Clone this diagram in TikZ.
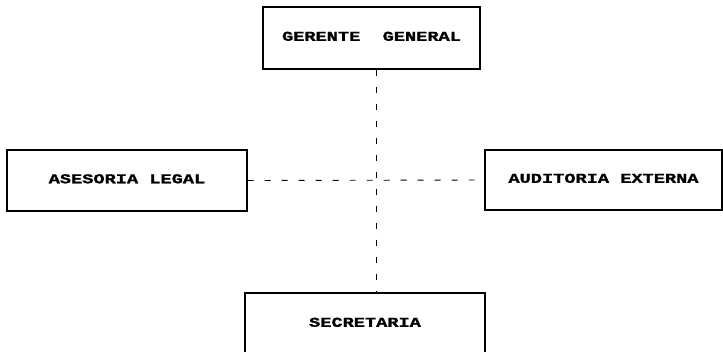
\documentclass[tikz,border=0pt]{standalone}
\usepackage{fontspec}
\newfontfamily\orgfont{Liberation Mono}[UprightFont=* Bold, FakeStretch=1.38, FakeBold=1.5]
\newcommand{\orglabel}[1]{\raisebox{3.5pt}{#1}}
\begin{document}
\begin{tikzpicture}[x=1pt,y=-1pt,
  orgbox/.style={draw, line width=1.4pt, rectangle, inner sep=0pt,
    font=\fontsize{13.5}{15}\orgfont},
  link/.style={line width=0.9pt, dash pattern=on 6pt off 11pt}]
  \useasboundingbox (0,0) rectangle (723,352);
  \node[orgbox, minimum width=217pt, minimum height=62pt] (g) at (371.5,38) {\orglabel{GERENTE\ \ GENERAL}};
  \node[orgbox, minimum width=240pt, minimum height=61pt] (a) at (127,180.5) {\orglabel{ASESORIA LEGAL}};
  \node[orgbox, minimum width=237pt, minimum height=60pt] (e) at (603.5,180) {\orglabel{AUDITORIA EXTERNA}};
  \node[orgbox, minimum width=240pt, minimum height=62pt] (s) at (365,324) {\orglabel{SECRETARIA}};
  \coordinate (c) at (376,180);
  \draw[link] (c |- g.south) -- (c |- s.north);
  \draw[link] (a.east) -- (e.west);
\end{tikzpicture}
\end{document}
